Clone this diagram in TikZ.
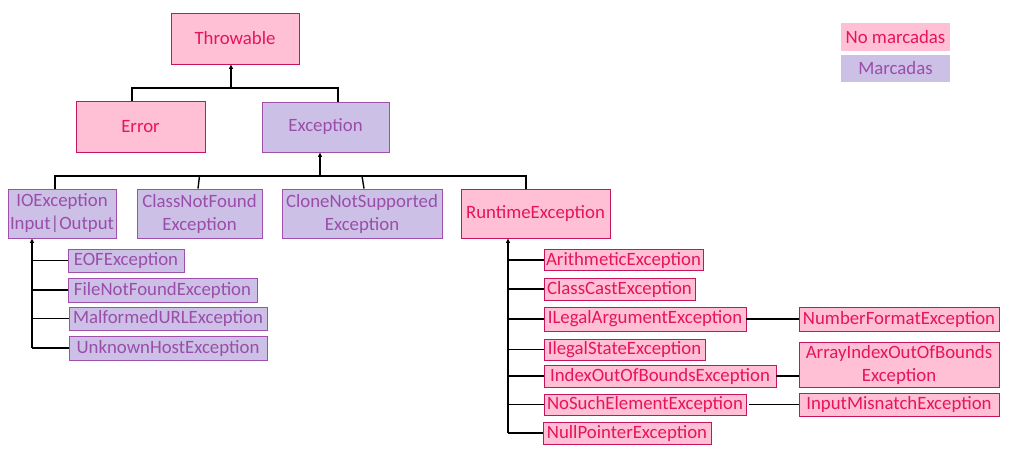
\documentclass[tikz,border=0pt]{standalone}
\usepackage{fontspec}
\setmainfont{Carlito}
\usetikzlibrary{arrows.meta}
\definecolor{pkfill}{RGB}{255,192,214}
\definecolor{pkdraw}{RGB}{200,20,90}
\definecolor{pktext}{RGB}{230,20,90}
\definecolor{lvfill}{RGB}{204,192,230}
\definecolor{lvdraw}{RGB}{160,80,170}
\definecolor{lvtext}{RGB}{155,77,170}
\tikzset{
  box/.style={rectangle, inner sep=0pt, line width=0.9pt, align=center,
    font=\fontsize{18.8}{23}\selectfont},
  pk/.style={box, fill=pkfill, draw=pkdraw, text=pktext},
  lv/.style={box, fill=lvfill, draw=lvdraw, text=lvtext},
  wh/.style 2 args={minimum width=#1pt, minimum height=#2pt},
  link/.style={line width=1.4pt, black},
  arr/.style={link, -{Triangle[width=4pt,length=4.5pt]}},
}
\begin{document}
\begin{tikzpicture}[x=1pt,y=1pt]
\useasboundingbox (0,0) rectangle (1015,-458);
% main hierarchy
\node[pk, wh={128}{51}] (thr) at (235,-38.5) {Throwable};
\node[pk, wh={129}{51}] (err) at (140.5,-126.5) {Error};
\node[lv, wh={127}{50}] (exc) at (325.5,-127) {Exception};
\node[lv, wh={108}{49}] (io) at (62,-213.5) {IOException\\Input|Output};
\node[lv, wh={125}{49}] (cnf) at (199.5,-213.5) {ClassNotFound\\Exception};
\node[lv, wh={160}{49}] (cns) at (362,-213.5) {CloneNotSupported\\Exception};
\node[pk, wh={149}{49}] (rt) at (535.5,-213.5) {RuntimeException};
% IO children
\node[lv, wh={116}{23}] (eof) at (126,-260.5) {EOFException};
\node[lv, wh={189}{24}] (fnf) at (162.5,-290) {FileNotFoundException};
\node[lv, wh={198}{23}] (mal) at (168,-318.5) {MalformedURLException};
\node[lv, wh={198}{24}] (ukh) at (168,-348) {UnknownHostException};
% Runtime children
\node[pk, wh={159}{21}] (ari) at (623.5,-260) {ArithmeticException};
\node[pk, wh={151}{22}] (cc) at (619.5,-289) {ClassCastException};
\node[pk, wh={202}{24}] (ila) at (645,-319) {ILegalArgumentException};
\node[pk, wh={161}{21}] (ils) at (624.5,-349.5) {IlegalStateException};
\node[pk, wh={232}{22}] (ioob) at (660,-376) {IndexOutOfBoundsException};
\node[pk, wh={202}{21}] (nse) at (645,-404.5) {NoSuchElementException};
\node[pk, wh={168}{22}] (npe) at (627,-433) {NullPointerException};
% right column
\node[pk, wh={200}{24}] (nfe) at (899,-319) {NumberFormatException};
\node[pk, wh={200}{45}] (aio) at (899,-364.5) {ArrayIndexOutOfBounds\\Exception};
\node[pk, wh={200}{23}] (ime) at (899,-404.5) {InputMisnatchException};
% legend
\node[box, fill=pkfill, text=pktext, wh={109}{28}] (lgnm) at (895.5,-37) {No marcadas};
\node[box, fill=lvfill, text=lvtext, wh={109}{27}] (lgm) at (895.5,-68.5) {Marcadas};
% connectors
\coordinate (j1) at (231,-88);
\draw[arr] (j1) -- (j1 |- thr.south);
\draw[link] ([xshift=-8.5pt]err.north) |- (j1) -| ([xshift=12.5pt]exc.north);
\coordinate (j2) at (320,-176);
\draw[arr] (j2) -- (j2 |- exc.south);
\draw[link] ([xshift=-7pt]io.north) |- (j2);
\draw[link] (j2) -| ([xshift=-9.5pt]rt.north);
\draw[link] (cnf.north |- j2) -- ([xshift=-1.5pt]cnf.north);
\draw[link] (cns.north |- j2) -- ([xshift=2pt]cns.north);
% IO bar
\coordinate (iobar) at (32,0);
\draw[arr] (ukh.west -| iobar) -- (io.south -| iobar);
\foreach \c in {eof,fnf,mal,ukh}{\draw[link] (\c.west -| iobar) -- (\c.west);}
% Runtime bar
\coordinate (rtbar) at (508,0);
\draw[arr] (npe.west -| rtbar) -- (rt.south -| rtbar);
\foreach \c in {ari,cc,ila,ils,ioob,nse,npe}{\draw[link] (\c.west -| rtbar) -- (\c.west);}
% right links
\draw[link] (ila.east) -- (nfe.west);
\draw[link] (ioob.east) -- (ioob.east -| aio.west);
\draw[link] ([xshift=3pt]nse.east) -- (ime.west);
\end{tikzpicture}
\end{document}
